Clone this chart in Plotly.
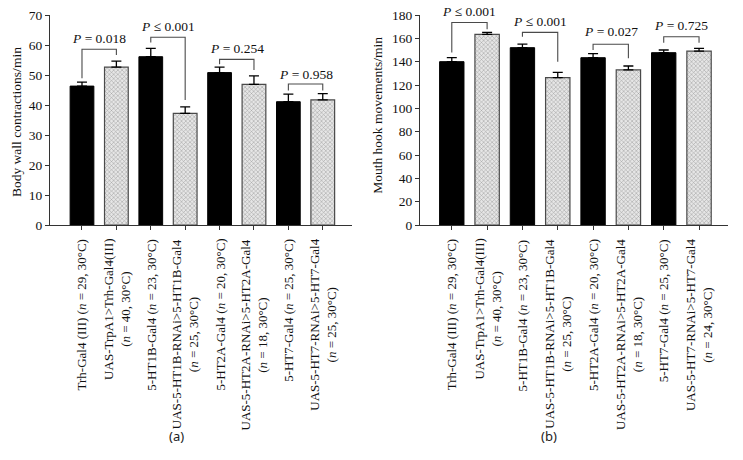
import plotly.graph_objects as go

# ---------------- data ----------------
labels_a = [
    "Trh-Gal4 (III) (<i>n</i> = 29, 30°C)",
    "UAS-TrpA1>Trh-Gal4(III)<br>(<i>n</i> = 40, 30°C)",
    "5-HT1B-Gal4 (<i>n</i> = 23, 30°C)",
    "UAS-5-HT1B-RNAi>5-HT1B-Gal4<br>(<i>n</i> = 25, 30°C)",
    "5-HT2A-Gal4 (<i>n</i> = 20, 30°C)",
    "UAS-5-HT2A-RNAi>5-HT2A-Gal4<br>(<i>n</i> = 18, 30°C)",
    "5-HT7-Gal4 (<i>n</i> = 25, 30°C)",
    "UAS-5-HT7-RNAi>5-HT7-Gal4<br>(<i>n</i> = 25, 30°C)",
]
labels_b = [
    "Trh-Gal4 (III) (<i>n</i> = 29, 30°C)",
    "UAS-TrpA1>Trh-Gal4(III)<br>(<i>n</i> = 40, 30°C)",
    "5-HT1B-Gal4 (<i>n</i> = 23, 30°C)",
    "UAS-5-HT1B-RNAi>5-HT1B-Gal4<br>(<i>n</i> = 25, 30°C)",
    "5-HT2A-Gal4 (<i>n</i> = 20, 30°C)",
    "UAS-5-HT2A-RNAi>5-HT2A-Gal4<br>(<i>n</i> = 18, 30°C)",
    "5-HT7-Gal4 (<i>n</i> = 25, 30°C)",
    "UAS-5-HT7-RNAi>5-HT7-Gal4<br>(<i>n</i> = 24, 30°C)",
]

body_wall = [46.3, 52.6, 56.1, 37.2, 50.8, 46.9, 41.1, 41.7]
body_wall_err = [1.3, 2.0, 2.8, 2.2, 1.8, 2.8, 2.5, 2.1]

mouth_hook = [140.0, 163.4, 152.0, 126.3, 143.4, 132.9, 147.7, 149.1]
mouth_hook_err = [3.4, 1.7, 3.1, 4.6, 3.5, 3.4, 2.3, 2.3]

pairs = [(0, 1), (2, 3), (4, 5), (6, 7)]
brk_top_a = [58.6, 62.6, 55.2, 47.0]
brk_left_a = [48.9, 60.8, 53.6, 44.8]
brk_right_a = [56.7, 41.7, 51.7, 44.8]
p_text_y_a = [62.2, 66.3, 58.9, 50.3]
p_labels_a = ["<i>P</i> = 0.018", "<i>P</i> ≤ 0.001", "<i>P</i> = 0.254", "<i>P</i> = 0.958"]

brk_top_b = [173.6, 165.1, 154.9, 161.4]
brk_left_b = [147.8, 161.4, 150.0, 156.3]
brk_right_b = [167.8, 140.0, 142.9, 156.3]
p_text_y_b = [183.0, 174.3, 165.7, 171.4]
p_labels_b = ["<i>P</i> ≤ 0.001", "<i>P</i> ≤ 0.001", "<i>P</i> = 0.027", "<i>P</i> = 0.725"]

y_range_a = [0, 70]
y_range_b = [0, 180]

# ---------------- styling ----------------
SERIF = "Liberation Serif, Times New Roman, serif"
W, H = 743, 460
PLOT_H = 210

fig = go.Figure()


def add_panel(values, errs, xa, ya):
    xs = list(range(len(values)))
    fig.add_trace(go.Bar(
        x=xs[0::2], y=values[0::2], width=0.69,
        marker=dict(color="#000000", line=dict(color="#000000", width=1)),
        error_y=dict(type="data", array=errs[0::2], arrayminus=[0] * 4, symmetric=False,
                     color="#000000", thickness=1.3, width=5),
        xaxis=xa, yaxis=ya, showlegend=False,
    ))
    fig.add_trace(go.Bar(
        x=xs[1::2], y=values[1::2], width=0.69,
        marker=dict(color="#e6e6e6", line=dict(color="#4a4a4a", width=1.2),
                    pattern=dict(shape="x", fgcolor="#9a9a9a", bgcolor="#e6e6e6",
                                 size=3, solidity=0.3, fillmode="replace")),
        error_y=dict(type="data", array=errs[1::2], arrayminus=[0] * 4, symmetric=False,
                     color="#000000", thickness=1.3, width=5),
        xaxis=xa, yaxis=ya, showlegend=False,
    ))


def add_brackets(tops, lefts, rights, ty, texts, xa, ya, yr):
    bx, by = [], []
    for (i, j), t, l, r in zip(pairs, tops, lefts, rights):
        bx += [i, i, j, j, None]
        by += [l, t, t, r, None]
    fig.add_trace(go.Scatter(x=bx, y=by, mode="lines",
                             line=dict(color="#4a4a4a", width=1.1),
                             xaxis=xa, yaxis=ya, showlegend=False, hoverinfo="skip",
                             cliponaxis=False))
    for (i, j), yy, txt in zip(pairs, ty, texts):
        fig.add_annotation(x=(i + j) / 2, y=(yy - yr[0]) / (yr[1] - yr[0]),
                           xref=xa, yref=ya + " domain", text=txt,
                           showarrow=False, font=dict(family=SERIF, size=13.5, color="#111"),
                           xanchor="center", yanchor="middle")


def add_category_labels(labels, xa, ya):
    for i, txt in enumerate(labels):
        fig.add_annotation(x=i, y=-12 / PLOT_H, xref=xa, yref=ya + " domain",
                           text=txt, textangle=-90, align="center", showarrow=False,
                           font=dict(family=SERIF, size=13, color="#111"),
                           xanchor="center", yanchor="top")


add_panel(body_wall, body_wall_err, "x", "y")
add_panel(mouth_hook, mouth_hook_err, "x2", "y2")
add_brackets(brk_top_a, brk_left_a, brk_right_a, p_text_y_a, p_labels_a, "x", "y", y_range_a)
add_brackets(brk_top_b, brk_left_b, brk_right_b, p_text_y_b, p_labels_b, "x2", "y2", y_range_b)
add_category_labels(labels_a, "x", "y")
add_category_labels(labels_b, "x2", "y2")

axis_common = dict(showgrid=False, zeroline=False, showline=True, linecolor="#333",
                   linewidth=1, ticks="outside", tickcolor="#333", ticklen=4,
                   tickwidth=1, automargin=False)

fig.update_layout(
    width=W, height=H,
    margin=dict(l=0, r=0, t=15, b=235),
    paper_bgcolor="white", plot_bgcolor="white",
    barmode="overlay",
    font=dict(family=SERIF, color="#111"),
    xaxis=dict(domain=[50 / W, 352 / W], range=[-0.93, 7.85], tickvals=list(range(8)),
               showticklabels=False, **axis_common),
    yaxis=dict(range=y_range_a, dtick=10, tickfont=dict(family=SERIF, size=13.5),
               **axis_common),
    xaxis2=dict(domain=[420 / W, 728 / W], range=[-0.9, 7.82], tickvals=list(range(8)),
                showticklabels=False, anchor="y2", **axis_common),
    yaxis2=dict(range=y_range_b, dtick=20, tickfont=dict(family=SERIF, size=13.5),
                anchor="x2", **axis_common),
)

fig.add_annotation(x=16 / W, y=0.49, xref="paper", yref="paper", textangle=-90,
                   text="Body wall contractions/min", showarrow=False,
                   font=dict(family=SERIF, size=13.5, color="#111"),
                   xanchor="center", yanchor="middle")
fig.add_annotation(x=378 / W, y=0.52, xref="paper", yref="paper", textangle=-90,
                   text="Mouth hook movements/min", showarrow=False,
                   font=dict(family=SERIF, size=13.5, color="#111"),
                   xanchor="center", yanchor="middle")
fig.add_annotation(x=176 / W, y=(225 - 436) / PLOT_H, xref="paper", yref="paper",
                   text="(a)", showarrow=False,
                   font=dict(family="Noto Sans, sans-serif", size=13, color="#222"),
                   xanchor="center", yanchor="middle")
fig.add_annotation(x=549 / W, y=(225 - 436) / PLOT_H, xref="paper", yref="paper",
                   text="(b)", showarrow=False,
                   font=dict(family="Noto Sans, sans-serif", size=13, color="#222"),
                   xanchor="center", yanchor="middle")

fig.write_html("out.html", config={"displayModeBar": False},
               post_script="document.body.style.margin='0px';")
